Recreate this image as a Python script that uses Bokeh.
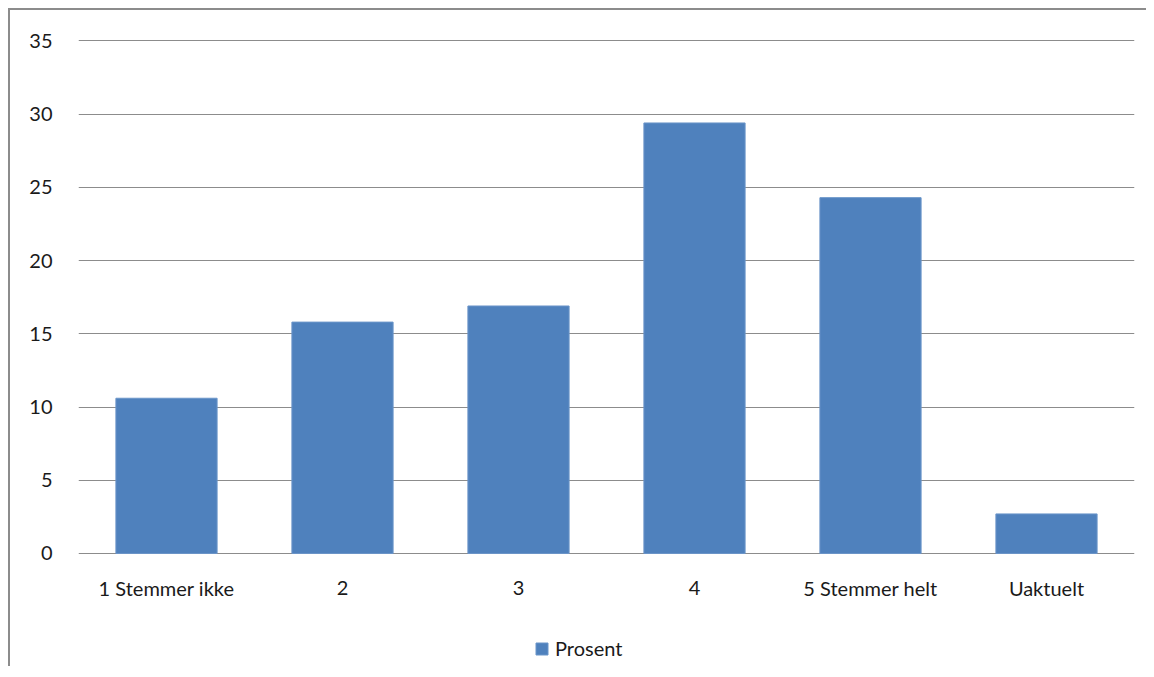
from bokeh.plotting import figure
from bokeh.models import ColumnDataSource, Legend, LegendItem, Range1d, FixedTicker
from bokeh.core.properties import value
from bokeh.embed import file_html
from bokeh.resources import INLINE

categories = ["1 Stemmer ikke", "2", "3", "4", "5 Stemmer helt", "Uaktuelt"]
prosent = [10.6, 15.8, 16.9, 29.4, 24.3, 2.7]
y_ticks = [0, 5, 10, 15, 20, 25, 30, 35]
series_name = "Prosent"

src = ColumnDataSource(data=dict(cat=categories, val=prosent, base=[0] * len(categories)))

FONT = "Lato"
FS = "20px"
p = figure(x_range=categories, y_range=Range1d(-7.72, 35.1), frame_width=1056, frame_height=627,
           output_backend="svg", toolbar_location=None,
           min_border_left=68, min_border_right=12, min_border_top=29, min_border_bottom=0)
p.styles = {"margin-left": "8px", "margin-top": "8px",
            "border-left": "2px solid #8c8c8c", "border-top": "2px solid #8c8c8c"}
p.outline_line_color = None

r = p.vbar(x="cat", top="val", width=0.575, source=src, fill_color="#4F81BD", line_color="#6b95c9", line_width=1)

# category labels below the zero line
p.text(x="cat", y="base", text="cat", source=src, y_offset=35, text_align="center",
       text_baseline="middle", text_font=value(FONT), text_font_size=FS, text_color="#1a1a1a")

p.xaxis.visible = False
p.yaxis.ticker = FixedTicker(ticks=y_ticks)
p.yaxis.major_label_text_font = FONT
p.yaxis.major_label_text_font_size = FS
p.yaxis.major_label_text_color = "#1a1a1a"
p.yaxis.major_tick_line_color = None
p.yaxis.minor_tick_line_color = None
p.yaxis.axis_line_color = None
p.yaxis.major_label_standoff = 20

p.xgrid.grid_line_color = None
p.ygrid.grid_line_color = "#8c8c8c"
p.ygrid.grid_line_width = 1

legend = Legend(items=[LegendItem(label=series_name, renderers=[r])], orientation="horizontal",
                location=(456, 6), border_line_color=None, background_fill_alpha=0,
                label_text_font=FONT, label_text_font_size=FS, label_text_color="#1a1a1a",
                glyph_width=15, glyph_height=15, label_standoff=6, margin=0, padding=4)
p.add_layout(legend, "center")

open("out.html", "w").write(file_html(p, INLINE))
